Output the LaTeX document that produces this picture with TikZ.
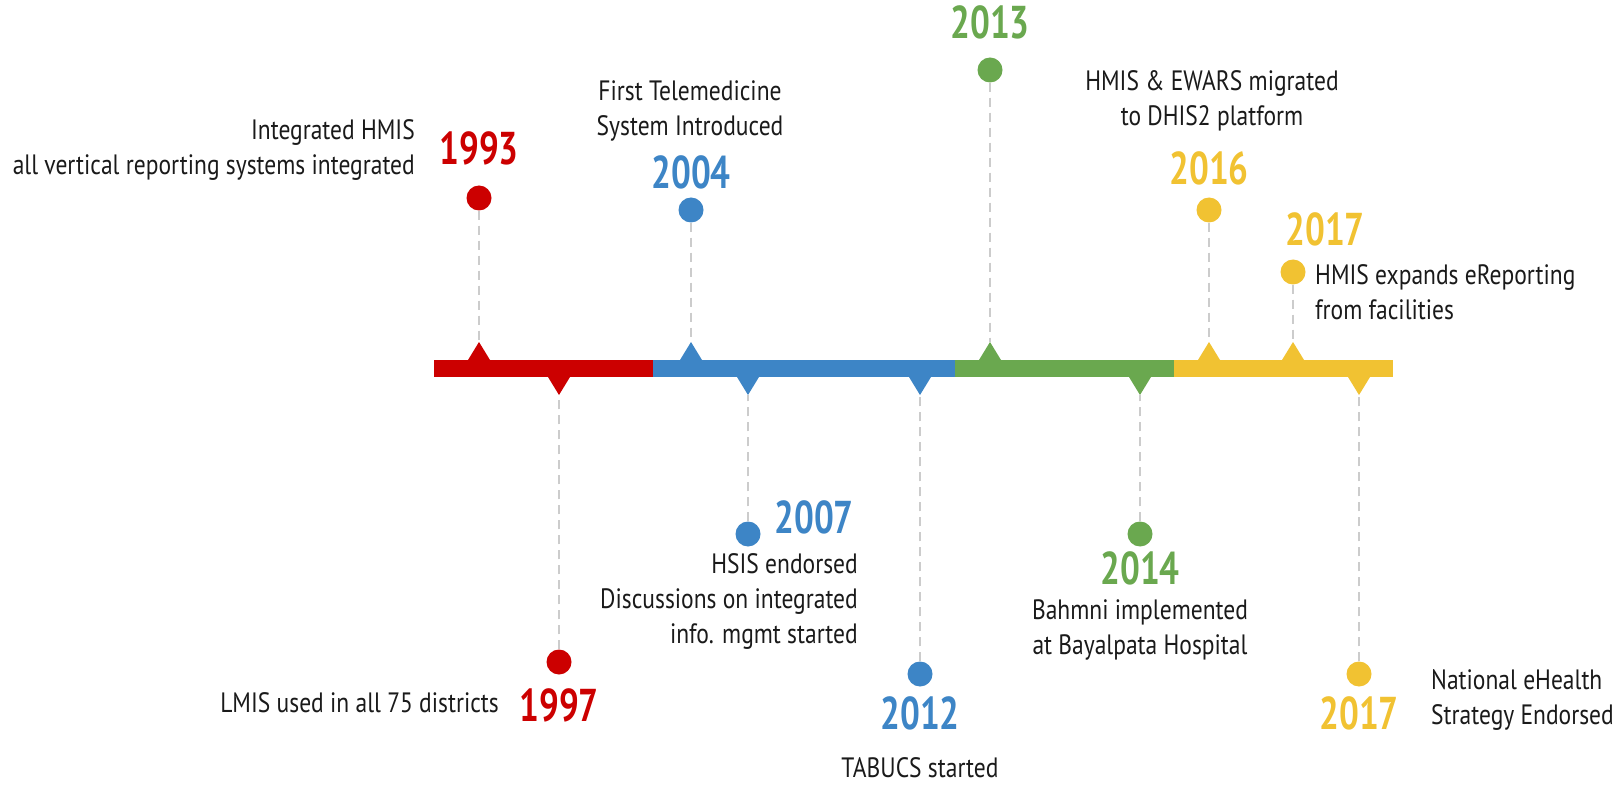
\documentclass[tikz,border=0pt]{standalone}
\usepackage{fontspec}
\setmainfont{PT Sans}[FakeStretch=0.84]
\newfontfamily\yearfont{PT Sans}[FakeStretch=0.76]
\definecolor{cred}{HTML}{CC0000}
\definecolor{cblue}{HTML}{3D85C6}
\definecolor{cgreen}{HTML}{6AA84F}
\definecolor{cyellow}{HTML}{F1C232}
\definecolor{ctext}{HTML}{1A1A1A}
\definecolor{cguide}{HTML}{CCCCCC}
\tikzset{
  dot/.style={circle, minimum size=25pt, inner sep=0pt, fill=#1},
  guide/.style={draw=cguide, line width=2pt, dash pattern=on 9pt off 6pt},
  yr/.style={inner sep=0pt, text=#1, font=\yearfont\bfseries\fontsize{46}{46}\selectfont},
  desc/.style={inner sep=0pt, text=ctext, font=\fontsize{28}{35}\selectfont},
}
\begin{document}
\begin{tikzpicture}[x=1pt,y=-1pt]
\useasboundingbox[fill=white] (0,0) rectangle (1620,786);
% bar
\fill[cred] (434,360) rectangle (653,377);
\fill[cblue] (653,360) rectangle (955,377);
\fill[cgreen] (955,360) rectangle (1174,377);
\fill[cyellow] (1174,360) rectangle (1393,377);
% apex coordinates
\coordinate (t93) at (479,342);
\coordinate (t04) at (691,342);
\coordinate (t13) at (990,342);
\coordinate (t16) at (1209,342);
\coordinate (t17a) at (1293,342);
\coordinate (b97) at (559,395);
\coordinate (b07) at (748,395);
\coordinate (b12) at (920,395);
\coordinate (b14) at (1140,395);
\coordinate (b17b) at (1359,395);
% circles
\node[dot=cred] (c93) at (479,198) {};
\node[dot=cblue] (c04) at (691,210) {};
\node[dot=cgreen] (c13) at (990,70) {};
\node[dot=cyellow] (c16) at (1209,210) {};
\node[dot=cyellow] (c17a) at (1293,272) {};
\node[dot=cred] (c97) at (559,662) {};
\node[dot=cblue] (c07) at (748,534) {};
\node[dot=cblue] (c12) at (920,674) {};
\node[dot=cgreen] (c14) at (1140,534) {};
\node[dot=cyellow] (c17b) at (1359,674) {};
% guides
\draw[guide] (c93) -- (t93);
\draw[guide] (c04) -- (t04);
\draw[guide] (c13) -- (t13);
\draw[guide] (c16) -- (t16);
\draw[guide] (c17a) -- (t17a);
\draw[guide] (c97) -- (b97);
\draw[guide] (c07) -- (b07);
\draw[guide] (c12) -- (b12);
\draw[guide] (c14) -- (b14);
\draw[guide] (c17b) -- (b17b);
% triangles
\fill[cred] (t93) -- ++(-11,18) -- ++(22,0) -- cycle;
\fill[cblue] (t04) -- ++(-11,18) -- ++(22,0) -- cycle;
\fill[cgreen] (t13) -- ++(-11,18) -- ++(22,0) -- cycle;
\fill[cyellow] (t16) -- ++(-11,18) -- ++(22,0) -- cycle;
\fill[cyellow] (t17a) -- ++(-11,18) -- ++(22,0) -- cycle;
\fill[cred] (b97) -- ++(-11,-18) -- ++(22,0) -- cycle;
\fill[cblue] (b07) -- ++(-11,-18) -- ++(22,0) -- cycle;
\fill[cblue] (b12) -- ++(-11,-18) -- ++(22,0) -- cycle;
\fill[cgreen] (b14) -- ++(-11,-18) -- ++(22,0) -- cycle;
\fill[cyellow] (b17b) -- ++(-11,-18) -- ++(22,0) -- cycle;
% years
\node[yr=cred] (y93) at (479,148) {1993};
\node[yr=cblue] (y04) at (691,172) {2004};
\node[yr=cgreen] (y13) at (990,22) {2013};
\node[yr=cyellow] (y16) at (1209,168) {2016};
\node[yr=cyellow] (y17a) at (1325,229) {2017};
\node[yr=cred] (y97) at (559,705) {1997};
\node[yr=cblue] (y07) at (814,517) {2007};
\node[yr=cblue] (y12) at (920,713) {2012};
\node[yr=cgreen] (y14) at (1140,568) {2014};
\node[yr=cyellow] (y17b) at (1359,713) {2017};
% descriptions
\node[desc, anchor=east, align=right] (d93) at (415,150) {Integrated HMIS\\all vertical reporting systems integrated};
\node[desc, align=center] (d04) at (690,111) {First Telemedicine\\System Introduced};
\node[desc, align=center] (d16) at (1212,101) {HMIS \& EWARS migrated\\to DHIS2 platform};
\node[desc, anchor=west, align=left] (d17a) at (1315,292) {HMIS expands eReporting\\from facilities};
\node[desc, anchor=east] (d97) at (499,703) {LMIS used in all 75 districts};
\node[desc, anchor=east, align=right] (d07) at (858,601) {HSIS endorsed\\Discussions on integrated\\info. mgmt started};
\node[desc] (d12) at (920,768) {TABUCS started};
\node[desc, align=center] (d14) at (1140,630) {Bahmni implemented\\at Bayalpata Hospital};
\node[desc, anchor=west, align=left] (d17b) at (1431,700) {National eHealth\\Strategy Endorsed};
\end{tikzpicture}
\end{document}
